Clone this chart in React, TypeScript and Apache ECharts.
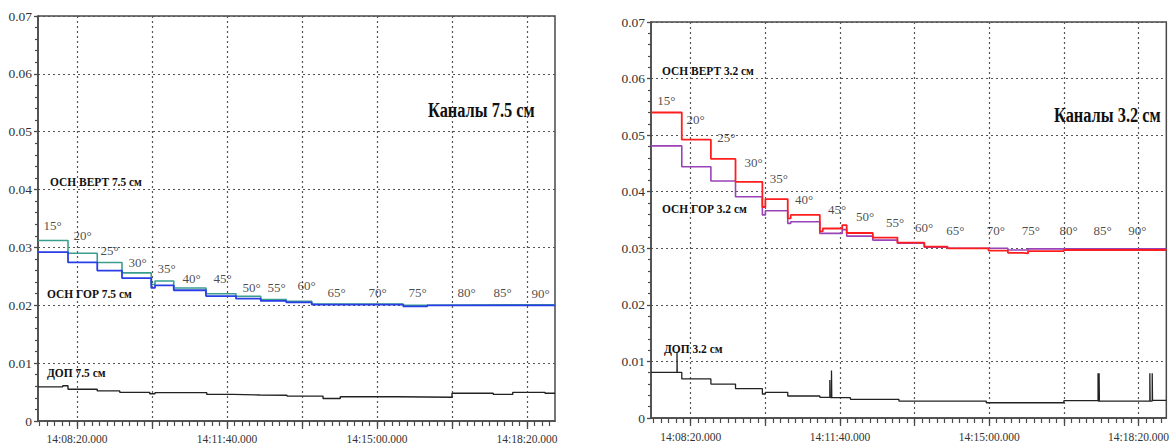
import React, { useEffect, useRef } from "react";
import * as echarts from "echarts";

// time in seconds after 14:00:00
const xMajorTicks = [500, 600, 700, 800, 900, 1000, 1100];
const xLabelTicks = [500, 700, 900, 1100];
const xMinorTicks: number[] = [];
for (let t = 450; t <= 1130; t += 10) xMinorTicks.push(t);

const leftRange = [448, 1137.3];
const rightRange = [446.75, 1137.3];

// Panel 1: channels 7.5 cm
const vert75: [number, number][] = [
  [448, 0.0312], [488, 0.029], [527, 0.0274], [560, 0.0256], [599, 0.0236], [604, 0.0242],
  [629, 0.023], [672, 0.022], [712, 0.02155], [745, 0.021], [779, 0.0207], [813, 0.0202],
  [935, 0.02], [967, 0.0201], [1137.3, 0.0201],
];
const hor75: [number, number][] = [
  [448, 0.0292], [488, 0.0274], [527, 0.026], [560, 0.0247], [599, 0.023], [604, 0.02345],
  [629, 0.0226], [672, 0.0216], [712, 0.02115], [745, 0.02075], [779, 0.0205], [813, 0.0201],
  [935, 0.0198], [967, 0.02], [1137.3, 0.02],
];
const dop75: [number, number][] = [
  [448, 0.0059], [481, 0.0061], [488, 0.0055], [527, 0.0052], [557, 0.00495], [597, 0.0047],
  [604, 0.0049], [673, 0.0046], [708, 0.0045], [744, 0.00445], [780, 0.0043], [828, 0.0039],
  [851, 0.0042], [928, 0.0041], [1000, 0.0048], [1055, 0.0046], [1081, 0.00495], [1124, 0.0048],
  [1137.3, 0.0048],
];

// Panel 2: channels 3.2 cm
const vert32: [number, number][] = [
  [446.75, 0.054], [488, 0.0492], [527, 0.0458], [560, 0.04175], [596, 0.0373], [600, 0.0387],
  [630, 0.0353], [634, 0.0359], [673, 0.033], [677, 0.0335], [703, 0.0341], [709, 0.0327],
  [744, 0.0319], [777, 0.031], [813, 0.0303], [844, 0.03], [899, 0.0296], [925, 0.0292],
  [945, 0.0291], [952, 0.0295], [1000, 0.0297], [1137.3, 0.0298],
];
const hor32: [number, number][] = [
  [446.75, 0.0481], [488, 0.0444], [527, 0.0419], [560, 0.0391], [596, 0.0359], [600, 0.03663],
  [630, 0.0344], [634, 0.03468], [673, 0.03263], [703, 0.0333], [709, 0.03215], [744, 0.03145],
  [777, 0.0309], [813, 0.0302], [844, 0.03], [925, 0.0297], [952, 0.0299], [1137.3, 0.0299],
];
const dop32: [number, number][] = [
  [446.75, 0.00807], [481.6, 0.0117], [481.9, 0.00807], [488, 0.0069], [527, 0.006], [560, 0.00518],
  [596, 0.00424], [600, 0.00454], [630, 0.00389], [673, 0.00366], [686.4, 0.0067], [686.8, 0.0036],
  [688.6, 0.0084], [689.0, 0.0036], [714, 0.0033], [779, 0.003], [896, 0.0027], [1000, 0.00306],
  [1045.8, 0.0079], [1046.2, 0.003], [1047.2, 0.0079], [1047.6, 0.003], [1115.2, 0.0079],
  [1115.6, 0.003], [1118.4, 0.0079], [1118.8, 0.0031], [1137.3, 0.0031],
];

const angleNames = ["15°", "20°", "25°", "30°", "35°", "40°", "45°", "50°", "55°", "60°", "65°", "70°", "75°", "80°", "85°", "90°"];
const angleT75 = [454.7, 494.7, 530.7, 568, 606.7, 640, 681.3, 720, 753.3, 793.3, 833.3, 888, 941.3, 1006.7, 1054.7, 1105.3];
const angleV75 = [0.0338, 0.0321, 0.0295, 0.0274, 0.0264, 0.0247, 0.0247, 0.0231, 0.0231, 0.0234, 0.0222, 0.0222, 0.0222, 0.0222, 0.0222, 0.0221];
const angleT32 = [454.5, 493.5, 535, 571.4, 605.2, 639, 683.1, 720.8, 761, 800, 841.6, 896.1, 942.9, 993.5, 1039, 1085.7];
const angleV32 = [0.0562, 0.0527, 0.0495, 0.0452, 0.0424, 0.0387, 0.0368, 0.0357, 0.0345, 0.0336, 0.0332, 0.0332, 0.0332, 0.0332, 0.0332, 0.0332];

const yMin = 0;
const yMax = 0.07;
const yStep = 0.01;

const AXIS = "#4a4a4a";
const GRIDC = "#555555";
const FONT = "'Liberation Serif', 'DejaVu Serif', serif";

function fmtTime(v: number): string {
  const m = Math.floor(v / 60);
  const s = Math.round(v - m * 60);
  return "14:" + String(m).padStart(2, "0") + ":" + String(s).padStart(2, "0") + ".000";
}

function xAxesFor(gridIndex: number, range: number[], labelMargin: number) {
  return [
    {
      type: "value", gridIndex, min: range[0], max: range[1], position: "bottom",
      axisLine: { show: true, lineStyle: { color: AXIS, width: 1.5 } },
      axisTick: { show: true, customValues: xMajorTicks, length: 8, lineStyle: { color: AXIS, width: 1.3 } },
      axisLabel: { show: true, customValues: xLabelTicks, formatter: fmtTime, fontFamily: FONT, fontSize: 11.5, color: "#333", margin: labelMargin },
      splitLine: { show: true, lineStyle: { color: GRIDC, type: [2, 3], width: 1.2 } },
    },
    {
      type: "value", gridIndex, min: range[0], max: range[1], position: "bottom",
      axisLine: { show: false },
      axisTick: { show: true, customValues: xMinorTicks, length: 5, lineStyle: { color: AXIS, width: 1.2 } },
      axisLabel: { show: false },
      splitLine: { show: false },
    },
  ];
}

function yAxisFor(gridIndex: number) {
  return {
    type: "value", gridIndex, min: yMin, max: yMax, interval: yStep,
    axisLine: { show: true, lineStyle: { color: AXIS, width: 1.5 } },
    axisTick: { show: true, length: 4, lineStyle: { color: AXIS, width: 1.3 } },
    minorTick: { show: true, splitNumber: 5, length: 3, lineStyle: { color: AXIS, width: 1.2 } },
    axisLabel: {
      formatter: (v: number) => (Math.abs(v) < 1e-9 ? "0" : v.toFixed(2)),
      fontFamily: FONT, fontSize: 13.5, color: "#333", margin: 6,
    },
    splitLine: { show: true, lineStyle: { color: GRIDC, type: [2, 3], width: 1.2 } },
  };
}

function lineSeries(data: [number, number][], color: string, xi: number, yi: number, width = 1.6) {
  return {
    type: "line", data, xAxisIndex: xi, yAxisIndex: yi, step: "end", showSymbol: false, symbol: "none",
    lineStyle: { color, width }, itemStyle: { color }, silent: true, z: 3,
  };
}

function angleSeries(ts: number[], vs: number[], xi: number, yi: number) {
  return {
    type: "scatter", xAxisIndex: xi, yAxisIndex: yi, symbolSize: 1, silent: true, z: 5,
    itemStyle: { color: "rgba(0,0,0,0)" },
    data: ts.map((t, i) => ({ value: [t, vs[i]], name: angleNames[i] })),
    label: {
      show: true, position: "right", distance: 0, formatter: (p: any) => p.name,
      fontFamily: FONT, fontSize: 13, color: "#1a1a1a", textBorderWidth: 0,
    },
  };
}

function txt(text: string, x: number, y: number, size: number, sx: number) {
  return {
    type: "text", x, y, z: 10, scaleX: sx,
    style: { text, fontFamily: FONT, fontWeight: "bold", fontSize: size, fill: "#111", verticalAlign: "middle" },
  };
}

export default function App() {
  const ref = useRef<HTMLDivElement>(null);
  useEffect(() => {
    if (!ref.current) return;
    const chart = echarts.init(ref.current, undefined, { renderer: "svg" });
    chart.setOption({
      animation: false,
      backgroundColor: "#ffffff",
      grid: [
        { left: 38, top: 16, width: 517, height: 405, show: true, borderColor: AXIS, borderWidth: 1.5, backgroundColor: "transparent" },
        { left: 651, top: 22, width: 531.7, height: 396, show: true, borderColor: AXIS, borderWidth: 1.5, backgroundColor: "transparent" },
      ],
      xAxis: [...xAxesFor(0, leftRange, 12), ...xAxesFor(1, rightRange, 13)],
      yAxis: [yAxisFor(0), yAxisFor(1)],
      series: [
        lineSeries(dop75, "#222222", 0, 0, 1.4),
        lineSeries(vert75, "#3a9e8e", 0, 0, 1.6),
        lineSeries(hor75, "#2a3ee6", 0, 0, 1.8),
        angleSeries(angleT75, angleV75, 0, 0),
        lineSeries(dop32, "#222222", 2, 1, 1.3),
        lineSeries(hor32, "#9a42b8", 2, 1, 1.6),
        lineSeries(vert32, "#ff1e1e", 2, 1, 1.8),
        angleSeries(angleT32, angleV32, 2, 1),
      ],
      graphic: [
        txt("Каналы 7.5 см", 428, 110, 20, 0.82),
        txt("ОСН ВЕРТ 7.5 см", 50, 182, 13, 0.88),
        txt("ОСН ГОР 7.5 см", 47, 294, 13, 0.88),
        txt("ДОП 7.5 см", 47, 373, 13, 0.88),
        txt("Каналы 3.2 см", 1054, 115, 20, 0.82),
        txt("ОСН ВЕРТ 3.2 см", 662, 71, 13, 0.88),
        txt("ОСН ГОР 3.2 см", 662, 209, 13, 0.88),
        txt("ДОП 3.2 см", 664, 349, 13, 0.88),
      ],
    });
    return () => chart.dispose();
  }, []);
  return <div ref={ref} style={{ position: "fixed", left: 0, top: 0, width: 1172, height: 445, background: "#fff" }} />;
}
